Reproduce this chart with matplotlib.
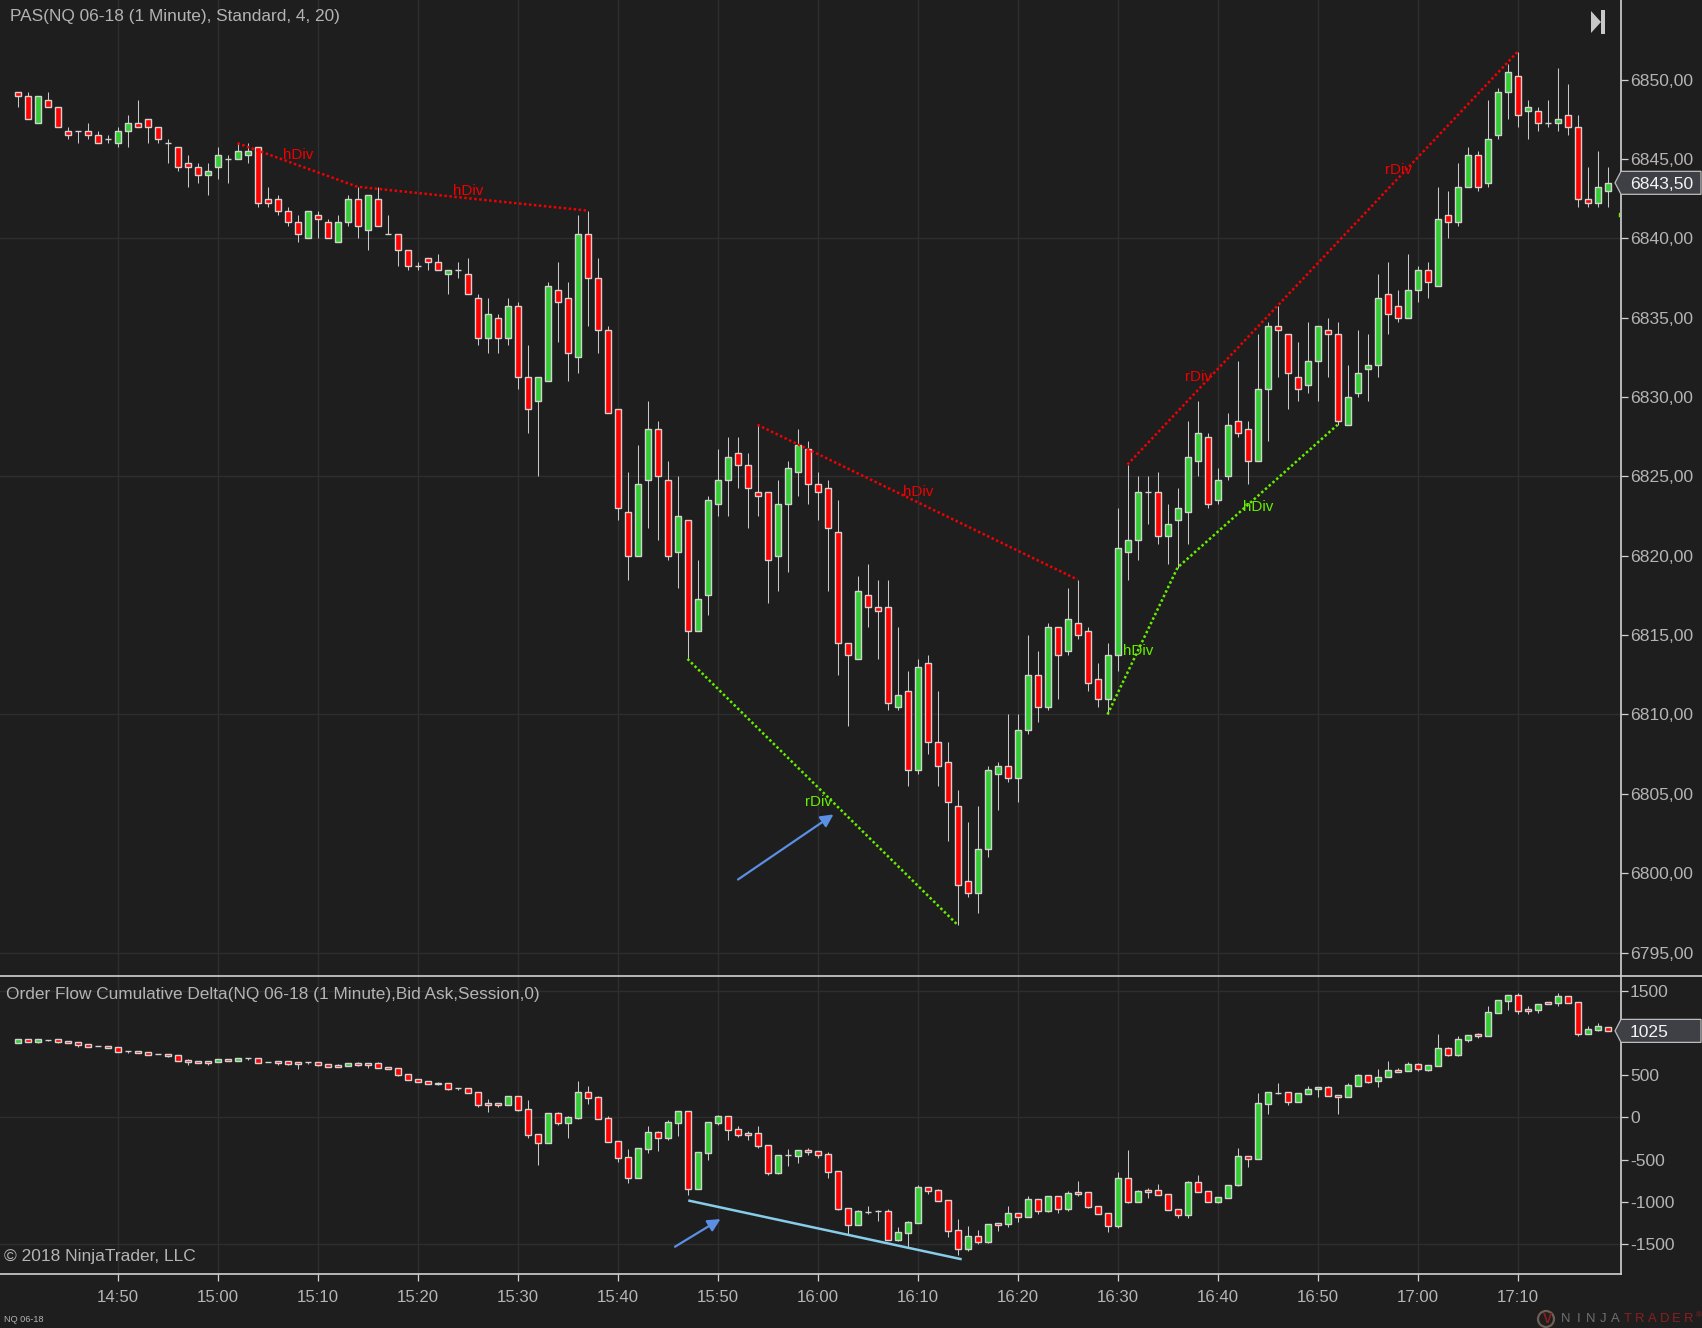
import numpy as np
import matplotlib as mpl
mpl.use('Agg')
import matplotlib.pyplot as plt
from matplotlib.patches import Polygon, Circle

mpl.rcParams['font.family'] = ['Liberation Sans', 'DejaVu Sans']

# minutes from 14:40, one bar per minute
opens = [6849.25,6849.0,6847.25,6848.75,6848.25,6846.75,6846.75,6846.75,6846.5,6846.25,
    6846.0,6846.75,6847.25,6847.5,6847.0,6846.0,6845.75,6844.75,6844.5,6844.0,
    6844.5,6845.0,6845.0,6845.25,6845.75,6842.5,6842.5,6841.75,6841.0,6840.0,
    6841.5,6841.0,6839.75,6841.0,6842.5,6840.5,6842.5,6840.25,6840.25,6839.25,
    6838.25,6838.75,6838.5,6837.75,6838.0,6837.75,6836.25,6833.75,6835.0,6833.75,
    6835.75,6831.25,6829.75,6831.0,6836.75,6836.25,6832.5,6840.25,6837.5,6834.25,
    6829.25,6822.75,6820,6824.75,6828,6824.75,6820.25,6822.25,6815.25,6817.5,
    6823.25,6824.75,6826.5,6825.75,6824,6824,6820,6823.25,6825.25,6826.75,
    6824.5,6824.25,6821.5,6814.5,6813.5,6817.5,6816.75,6816.75,6810.5,6811.5,
    6806.5,6813.25,6808.25,6807,6804.25,6799.5,6798.75,6801.5,6806.25,6806.75,
    6806,6809,6812.5,6810.5,6815.5,6814,6815.75,6815.25,6812.25,6811,
    6813.75,6820.25,6821,6824,6824,6821.25,6822.25,6822.75,6826,6827.5,
    6823.5,6825,6828.5,6828,6826,6830.5,6834.5,6834,6831.25,6830.75,
    6832.25,6834.25,6834,6828.25,6830.25,6831.75,6832,6836.5,6835.75,6835,
    6836.75,6838,6837,6841.5,6841,6843.25,6845.25,6843.5,6846.5,6849.25,
    6850.25,6848,6848,6847.25,6847.25,6847.75,6847,6842.5,6842.25,6843]
closes = [6849.0,6847.5,6849.0,6848.25,6847.0,6846.5,6846.75,6846.5,6846.0,6846.25,
    6846.75,6847.25,6847.0,6847.0,6846.25,6846.0,6844.5,6844.5,6844.0,6844.25,
    6845.25,6845.0,6845.5,6845.5,6842.25,6842.25,6841.75,6841.0,6840.25,6841.75,
    6841.25,6840.0,6841.0,6842.5,6840.75,6842.75,6840.75,6840.25,6839.25,6838.25,
    6838.25,6838.5,6838.0,6838.0,6838.0,6836.5,6833.75,6835.25,6833.75,6835.75,
    6831.25,6829.25,6831.25,6837.0,6836.0,6832.75,6840.25,6837.5,6834.25,6829.0,
    6823.0,6820,6824.5,6828,6825,6820,6822.5,6815.25,6817.25,6823.5,
    6824.75,6826.25,6825.75,6824.25,6823.75,6819.75,6823.25,6825.5,6827,6824.5,
    6824,6821.75,6814.5,6813.75,6817.75,6816.75,6816.5,6810.75,6811.25,6806.5,
    6813,6808.25,6806.75,6804.5,6799.25,6798.75,6801.5,6806.5,6806.75,6806,
    6809,6812.5,6810.5,6815.5,6813.75,6816,6815,6812,6811,6813.75,
    6820.5,6821,6824,6824,6821.25,6822,6823,6826.25,6827.75,6823.25,
    6824.75,6828.25,6827.75,6826,6830.5,6834.5,6834.25,6831.5,6830.5,6832.25,
    6834.5,6834,6828.5,6830,6831.5,6832,6836.25,6835.25,6835,6836.75,
    6838,6837.25,6841.25,6841,6843.25,6845.25,6843.25,6846.25,6849.25,6850.5,
    6847.75,6848.25,6847.25,6847.25,6847.5,6847,6842.5,6842.25,6843.25,6843.5]
highs = [6849.25,6849.25,6849,6849.25,6848.25,6847,6846.75,6847.25,6846.75,6846.5,
    6847,6847.75,6848.75,6847.5,6847,6846.25,6845.75,6845.25,6844.75,6844.75,
    6845.75,6845.25,6846,6846,6845.75,6843.25,6842.75,6842,6841.5,6841.75,
    6841.75,6841.25,6841.5,6842.75,6843.25,6842.75,6843.25,6841.5,6840.25,6839.25,
    6838.5,6838.75,6839,6838,6838.5,6838.75,6836.5,6836.25,6835.25,6836.25,
    6836,6833.25,6831.25,6837.25,6838.5,6837.25,6841.5,6841.75,6838.75,6834.5,
    6829.25,6825.25,6827,6829.75,6828.5,6826,6825,6822.25,6819.75,6823.75,
    6826.75,6827.5,6827.5,6826.5,6828.25,6824,6824.75,6826,6828,6827.25,
    6825.25,6824.75,6823.5,6814.5,6818.75,6819.5,6818.5,6818.5,6815.5,6812.75,
    6813.5,6813.75,6811.5,6808.25,6805.25,6803.25,6804.25,6806.75,6807,6810,
    6810,6815,6814,6815.75,6815.5,6818,6818.5,6815.5,6813.25,6814.5,
    6823,6825.75,6825,6825,6825.25,6823.25,6824.25,6828.5,6829.75,6827.75,
    6825.5,6829,6832.25,6828.5,6834,6834.75,6835.75,6834,6833.5,6834.75,
    6834.5,6835,6834.75,6832,6834.25,6834,6837.75,6838.5,6836.75,6839,
    6838.25,6838.5,6843.25,6843,6844.75,6845.75,6845.5,6848.75,6849.5,6851,
    6851.75,6848.75,6848.25,6848.75,6850.75,6849.75,6847.75,6844.5,6845.5,6844.5]
lows = [6848.25,6847.5,6847.25,6848.25,6847,6846.25,6846,6846.25,6846,6846,
    6845.75,6845.75,6847,6846,6846,6844.75,6844.25,6843.25,6843.5,6842.75,
    6843.75,6843.5,6845,6844.75,6842,6842,6841.5,6840.75,6839.75,6840,
    6840,6840,6839.75,6840.75,6840,6839.25,6840.75,6840.25,6838.25,6838,
    6838,6838,6838,6836.5,6837.5,6836.5,6833.25,6832.75,6832.75,6833.25,
    6830.5,6827.75,6825,6831,6833.5,6831,6831.5,6834.5,6832.75,6829,
    6822.25,6818.5,6820,6821.75,6821,6819.75,6818,6813.5,6815.25,6816.25,
    6822.5,6822.5,6824.25,6821.75,6822.5,6817,6817.75,6819,6823.75,6823.25,
    6822.25,6817.75,6812.5,6809.25,6813.5,6815.5,6813.5,6810.25,6810.25,6805.5,
    6806.25,6807.5,6805.5,6802,6796.75,6798.5,6797.5,6801,6804,6805.75,
    6804.5,6808.75,6809.5,6810.25,6811,6813.75,6814.75,6811.5,6810.5,6810,
    6812.75,6818.5,6819.75,6822,6820.75,6819.5,6819.25,6820.75,6825,6823,
    6823.25,6824.75,6827.5,6824.5,6826,6827.25,6831.25,6829.25,6829.75,6830.25,
    6829.75,6831.25,6828.25,6828.25,6830,6829.75,6831.25,6834,6834.75,6835,
    6836,6836.25,6837,6840,6840.75,6843.25,6843,6843.25,6846.25,6847.5,
    6847,6846.25,6846.75,6847,6846.75,6846.5,6842,6842,6842,6842]

d_opens = [881,928,893,920,928,905,889,869,841,845,
    830,782,786,774,747,750,739,679,668,668,
    656,691,668,699,703,652,668,668,656,652,
    656,632,620,608,644,644,644,596,585,514,
    454,431,407,407,344,348,300,170,170,146,
    253,99,-197,-304,51,-67,-8,300,241,-8,
    -280,-474,-715,-375,-178,-241,-63,71,-845,-419,
    -63,12,-142,-186,-190,-332,-656,-450,-454,-387,
    -403,-438,-640,-1078,-1272,-1118,-1110,-1114,-1450,-1367,
    -1248,-830,-865,-984,-1339,-1556,-1410,-1473,-1252,-1260,
    -1138,-1177,-972,-1106,-936,-1082,-889,-889,-1055,-1138,
    -1284,-723,-999,-861,-865,-912,-1090,-1153,-770,-877,
    -999,-952,-798,-462,-490,162,292,296,186,280,
    332,355,261,237,375,498,427,474,561,545,
    628,565,612,818,739,920,984,968,1240,1383,
    1446,1284,1276,1363,1359,1434,1363,991,1039,1074]
d_closes = [928,893,928,920,893,881,857,837,841,822,
    774,782,762,739,747,727,668,656,644,644,
    691,668,703,699,644,652,644,632,632,652,
    620,596,596,644,620,620,585,573,502,442,
    419,395,395,336,344,288,146,146,146,253,
    87,-209,-304,51,-67,4,300,229,-20,-292,
    -482,-715,-367,-178,-241,-59,71,-845,-415,-59,
    16,-146,-205,-209,-336,-656,-450,-450,-391,-411,
    -442,-644,-1082,-1272,-1114,-1118,-1110,-1450,-1363,-1244,
    -830,-869,-988,-1343,-1556,-1410,-1473,-1268,-1272,-1138,
    -1177,-972,-1106,-936,-1082,-901,-912,-1059,-1142,-1284,
    -723,-999,-877,-881,-916,-1094,-1153,-770,-881,-999,
    -948,-798,-462,-490,166,296,292,186,284,332,
    355,257,237,379,498,423,474,557,541,628,
    569,616,818,743,924,980,964,1244,1386,1446,
    1264,1260,1339,1339,1434,1359,991,1043,1078,1025]
d_highs = [928,928,928,920,928,905,889,869,841,845,
    830,782,786,774,747,750,739,691,668,668,
    691,691,703,699,703,652,668,668,656,652,
    656,632,632,644,656,644,656,596,585,514,
    454,431,419,407,344,348,300,217,170,253,
    253,205,-197,51,63,16,430,371,253,16,
    -280,-375,-367,-103,-166,-32,71,71,-415,-59,
    28,12,-107,-166,-107,-332,-450,-375,-391,-363,
    -403,-415,-640,-1078,-1102,-1055,-1094,-1090,-1300,-1228,
    -806,-830,-853,-984,-1205,-1288,-1335,-1268,-1252,-1051,
    -1138,-936,-972,-936,-936,-873,-754,-889,-1055,-1138,
    -652,-387,-861,-841,-790,-912,-1090,-758,-683,-877,
    -948,-798,-367,-462,284,296,407,296,284,367,
    355,367,261,403,510,498,573,668,581,652,
    640,616,987,833,960,980,999,1319,1386,1446,
    1469,1315,1339,1363,1469,1434,1363,1078,1114,1074]
d_lows = [881,893,881,905,881,881,837,837,841,822,
    774,766,762,739,747,715,668,620,644,620,
    656,668,668,679,644,652,620,620,573,632,
    608,596,596,608,608,585,585,573,490,442,
    419,395,383,324,324,288,122,63,122,146,
    75,-245,-565,-304,-91,-245,-20,158,-20,-292,
    -529,-774,-715,-419,-399,-269,-221,-920,-845,-506,
    -87,-269,-229,-269,-363,-683,-668,-577,-541,-442,
    -482,-719,-1098,-1382,-1272,-1142,-1228,-1450,-1461,-1533,
    -1248,-909,-995,-1414,-1631,-1580,-1497,-1485,-1347,-1300,
    -1240,-1185,-1146,-1118,-1134,-1106,-928,-1070,-1142,-1359,
    -1311,-1019,-1007,-952,-916,-1094,-1193,-1193,-881,-999,
    -1019,-952,-810,-585,-490,40,273,146,186,280,
    245,257,40,237,375,407,363,474,541,545,
    545,545,612,731,731,897,940,968,1240,1272,
    1228,1228,1240,1339,1323,1359,968,991,1027,1025]

time_ticks = [10,20,30,40,50,60,70,80,90,100,110,120,130,140,150]
time_labels = ['14:50','15:00','15:10','15:20','15:30','15:40','15:50','16:00',
    '16:10','16:20','16:30','16:40','16:50','17:00','17:10']
price_ticks = [6795,6800,6805,6810,6815,6820,6825,6830,6835,6840,6845,6850]
price_labels = ['6795,00','6800,00','6805,00','6810,00','6815,00','6820,00','6825,00',
    '6830,00','6835,00','6840,00','6845,00','6850,00']
price_grid = [6795,6810,6825,6840]
delta_ticks = [-1500,-1000,-500,0,500,1500]
delta_labels = ['-1500','-1000','-500','0','500','1500']
delta_grid = [-1500,0,1500]

# divergence lines, (bar, price)
red_div1_x, red_div1_y = [22,34,57], [6846,6843.25,6841.75]
red_div2_x, red_div2_y = [74,106], [6828.25,6818.5]
red_div3_x, red_div3_y = [111,150], [6825.75,6851.75]
grn_div1_x, grn_div1_y = [67,94], [6813.5,6796.75]
grn_div2_x, grn_div2_y = [109,116,132], [6810,6819.25,6828.25]
# (bar, price, text)
red_notes = [(26.55,6845.24,'hDiv'),(43.6,6842.99,'hDiv'),(88.6,6824.04,'hDiv'),
    (116.75,6831.29,'rDiv'),(136.7,6844.29,'rDiv')]
grn_notes = [(78.7,6804.49,'rDiv'),(110.55,6813.99,'hDiv'),(122.55,6823.09,'hDiv')]

W, H = 1702, 1328
BG = '#1e1e1e'
GRID = '#2e2e2e'
AXIS = '#d2d2d2'
TXT = '#b4b4b4'
RED = '#ff0000'
GREEN = '#32cd32'
RED_DIV = '#f00000'
GRN_DIV = '#66ee00'
AX_R = 1621.0
MAIN_B = 976.0
LOW_B = 1274.3

fig = plt.figure(figsize=(W/100.0,H/100.0),dpi=100,facecolor=BG)
ax = fig.add_axes([0,1-MAIN_B/H,AX_R/W,MAIN_B/H],facecolor=BG)
ax2 = fig.add_axes([0,1-LOW_B/H,AX_R/W,(LOW_B-MAIN_B)/H],facecolor=BG)

def candles(axes,o,h,l,c):
    o = np.array(o,dtype=float)
    c = np.array(c,dtype=float)
    x = np.arange(len(o))
    cols = [GREEN if b > a else RED for a,b in zip(o,c)]
    axes.vlines(x,l,h,color='#c8c8c8',linewidth=0.75,zorder=3)
    axes.bar(x,np.abs(c-o),bottom=np.minimum(o,c),width=0.6,color=cols,
        edgecolor='#d2d2d2',linewidth=1.0,zorder=4)

candles(ax,opens,highs,lows,closes)
candles(ax2,d_opens,d_highs,d_lows,d_closes)

ax.set_xlim(-1.75,160.35)
ax2.set_xlim(-1.75,160.35)
ax.set_ylim(6793.52,6855.02)
ax2.set_ylim(-1861,1675.6)

for a in (ax,ax2):
    for s in ('top','left','bottom'):
        a.spines[s].set_visible(False)
    a.spines['right'].set_color(AXIS)
    a.spines['right'].set_linewidth(1.2)
    a.yaxis.tick_right()
    a.tick_params(axis='y',length=5,width=0.9,color=AXIS,labelcolor=TXT,labelsize=12.6,pad=1.5)
    a.set_xticks(time_ticks)
    a.grid(axis='x',color=GRID,linewidth=1.0,zorder=0)
    a.set_axisbelow(True)

ax.set_yticks(price_ticks)
ax.set_yticklabels(price_labels)
ax.tick_params(axis='x',length=0,labelbottom=False)
for p in price_grid:
    ax.axhline(p,color=GRID,linewidth=1.0,zorder=1)

ax2.set_yticks(delta_ticks)
ax2.set_yticklabels(delta_labels)
for p in delta_grid:
    ax2.axhline(p,color=GRID,linewidth=1.0,zorder=1)
ax2.spines['bottom'].set_visible(True)
ax2.spines['bottom'].set_color(AXIS)
ax2.spines['bottom'].set_linewidth(1.2)
ax2.set_xticklabels(time_labels)
ax2.tick_params(axis='x',length=5,width=0.9,color=AXIS,labelcolor=TXT,labelsize=12.1,pad=6)

dots = (0,(1,1))
for xs,ys,col in [(red_div1_x,red_div1_y,RED_DIV),(red_div2_x,red_div2_y,RED_DIV),
        (red_div3_x,red_div3_y,RED_DIV),(grn_div1_x,grn_div1_y,GRN_DIV),(grn_div2_x,grn_div2_y,GRN_DIV)]:
    ax.plot(xs,ys,color=col,linewidth=1.8,linestyle=dots,zorder=5)
for x,y,t in red_notes:
    ax.text(x,y,t,color=RED_DIV,fontsize=10.9,va='center',ha='left',zorder=6)
for x,y,t in grn_notes:
    ax.text(x,y,t,color=GRN_DIV,fontsize=10.9,va='center',ha='left',zorder=6)
ax.plot([160.1,160.1],[6841.4,6841.6],color=GRN_DIV,linewidth=1.0,clip_on=False)

arrow_col = '#5b8fe3'
ax.annotate('',xy=(81.6,6803.7),xytext=(72.05,6799.6),
    arrowprops=dict(arrowstyle='-|>,head_length=0.75,head_width=0.38',color=arrow_col,lw=1.6,shrinkA=0,shrinkB=0),zorder=6)
ax2.annotate('',xy=(70.3,-1206),xytext=(65.75,-1534),
    arrowprops=dict(arrowstyle='-|>,head_length=0.75,head_width=0.38',color=arrow_col,lw=1.6,shrinkA=0,shrinkB=0),zorder=6)
ax2.plot([67.2,94.3],[-989,-1680],color='#87cdea',linewidth=1.8,zorder=6)

def fx(px):
    return px/float(W)
def fy(py):
    return 1-py/float(H)

def label(px,py,s,size,col=TXT,**kw):
    fig.text(fx(px),fy(py),s,fontsize=size,color=col,va='center',**kw)

label(9.5,17,'PAS(NQ 06-18 (1 Minute), Standard, 4, 20)',12.4)
label(5.5,994.5,'Order Flow Cumulative Delta(NQ 06-18 (1 Minute),Bid Ask,Session,0)',12.4)
label(4.5,1257,'\u00a9 2018 NinjaTrader, LLC',12.5)
label(4,1319,'NQ 06-18',6.6)

# divider runs to the edge of the window
fig.add_artist(plt.Line2D([0,1],[fy(MAIN_B),fy(MAIN_B)],color=AXIS,linewidth=1.2))

def price_tag(axes,value,text):
    # tag sits on the last close
    py = H-axes.transData.transform((0,value))[1]
    pts = [(1615,py),(1621,py-11.5),(1701,py-11.5),(1701,py+11.5),(1621,py+11.5)]
    fig.add_artist(Polygon([(fx(a),fy(b)) for a,b in pts],closed=True,transform=fig.transFigure,
        facecolor='#3f3f46',edgecolor='#bdbdbd',linewidth=0.9,zorder=8))
    fig.text(fx(1630),fy(py+1.5),text,fontsize=12.6,color='#f4f4f4',va='center',zorder=9)

price_tag(ax,closes[-1],'6843,50')
price_tag(ax2,d_closes[-1],'1025')

# skip-to-end button
fig.add_artist(Polygon([(fx(1591),fy(11)),(fx(1601),fy(22)),(fx(1591),fy(33))],closed=True,
    transform=fig.transFigure,facecolor='#c8c8c8',edgecolor='none'))
fig.add_artist(Polygon([(fx(1601),fy(10)),(fx(1605),fy(10)),(fx(1605),fy(34)),(fx(1601),fy(34))],closed=True,
    transform=fig.transFigure,facecolor='#c8c8c8',edgecolor='none'))

# logo
logo_x = 1566.0
for i,ch in enumerate('NINJATRADER'):
    col = '#707070' if i < 5 else '#8a2020'
    fig.text(fx(logo_x+i*12.3),fy(1319),ch,fontsize=9.4,color=col,va='center',ha='center')
label(1696,1316,'\u00ae',6,col='#8a2020')
ring = Circle((1546,H-1319),8,transform=None,facecolor='none',edgecolor='#6e5f55',linewidth=1.6)
fig.add_artist(ring)
fig.text(fx(1548),fy(1319),'V',fontsize=10,color='#8a1e1e',va='center',ha='center',fontweight='bold')

plt.savefig('out.png',dpi=100,facecolor=BG)
